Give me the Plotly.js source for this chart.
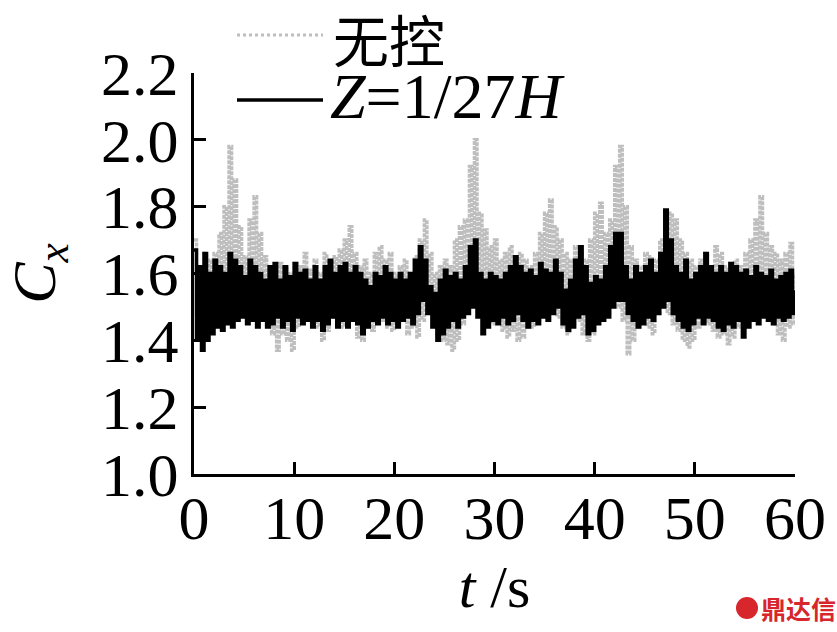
<!DOCTYPE html>
<html>
<head>
<meta charset="utf-8">
<script src="https://cdn.plot.ly/plotly-3.0.1.min.js"></script>
<style>
html,body{margin:0;padding:0;background:#fff;}
#chart{width:837px;height:632px;}
</style>
</head>
<body>
<div id="chart"></div>
<script>
// ---- data ----
const sampleStep = 0.25; // s between samples
const seriesNames = ['无控', '<i>Z</i>=1/27<i>H</i>'];
const xTickVals = [0, 10, 20, 30, 40, 50, 60];
const yTickVals = [1.0, 1.2, 1.4, 1.6, 1.8, 2.0, 2.2];

// 无控 (no control)
const noControl = [
  1.70,1.48, 1.62,1.45, 1.66,1.44, 1.64,1.50, 1.66,1.47, 1.72,1.48, 1.80,1.50, 1.98,1.54, 1.88,1.52, 1.74,1.50,
  1.65,1.46, 1.76,1.50, 1.83,1.52, 1.72,1.48, 1.65,1.45, 1.62,1.42, 1.60,1.37, 1.63,1.42, 1.62,1.40, 1.60,1.37,
  1.63,1.44, 1.62,1.46, 1.66,1.47, 1.61,1.45, 1.64,1.44, 1.60,1.40, 1.66,1.43, 1.62,1.47, 1.65,1.45, 1.67,1.44,
  1.70,1.46, 1.74,1.47, 1.66,1.41, 1.62,1.40, 1.64,1.44, 1.60,1.43, 1.66,1.47, 1.68,1.46, 1.64,1.44, 1.66,1.43,
  1.60,1.45, 1.62,1.46, 1.64,1.42, 1.60,1.44, 1.65,1.41, 1.70,1.46, 1.76,1.52, 1.66,1.48, 1.60,1.42, 1.62,1.40,
  1.64,1.39, 1.62,1.37, 1.70,1.40, 1.74,1.45, 1.76,1.50, 1.92,1.55, 2.00,1.52, 1.78,1.48, 1.73,1.46, 1.68,1.45,
  1.70,1.47, 1.64,1.43, 1.66,1.41, 1.68,1.43, 1.62,1.40, 1.66,1.41, 1.64,1.44, 1.62,1.44, 1.66,1.46, 1.72,1.48,
  1.78,1.50, 1.82,1.52, 1.74,1.47, 1.70,1.44, 1.66,1.42, 1.64,1.45, 1.68,1.46, 1.66,1.42, 1.64,1.40, 1.70,1.42,
  1.78,1.46, 1.81,1.50, 1.72,1.48, 1.76,1.52, 1.92,1.50, 1.98,1.46, 1.80,1.36, 1.68,1.40, 1.64,1.44, 1.62,1.46,
  1.66,1.44, 1.65,1.42, 1.64,1.48, 1.70,1.50, 1.76,1.48, 1.78,1.45, 1.76,1.43, 1.70,1.40, 1.66,1.38, 1.64,1.40,
  1.62,1.44, 1.64,1.46, 1.66,1.45, 1.62,1.43, 1.68,1.41, 1.66,1.42, 1.62,1.39, 1.63,1.41, 1.64,1.44, 1.62,1.45,
  1.66,1.47, 1.70,1.48, 1.76,1.50, 1.83,1.52, 1.72,1.48, 1.68,1.45, 1.66,1.42, 1.64,1.40, 1.66,1.44, 1.69,1.45,
  1.60
];

// Z = 1/27H
const zControl = [
  1.67,1.40, 1.62,1.37, 1.66,1.40, 1.60,1.42, 1.64,1.44, 1.62,1.43, 1.60,1.45, 1.66,1.44, 1.64,1.46, 1.62,1.47,
  1.59,1.45, 1.64,1.46, 1.62,1.44, 1.60,1.46, 1.58,1.44, 1.62,1.45, 1.63,1.47, 1.58,1.44, 1.62,1.46, 1.59,1.43,
  1.63,1.47, 1.60,1.45, 1.61,1.46, 1.58,1.44, 1.62,1.46, 1.58,1.43, 1.62,1.45, 1.64,1.47, 1.60,1.44, 1.62,1.46,
  1.63,1.44, 1.60,1.46, 1.62,1.45, 1.60,1.42, 1.58,1.44, 1.56,1.46, 1.60,1.45, 1.59,1.47, 1.62,1.45, 1.60,1.46,
  1.58,1.44, 1.60,1.46, 1.58,1.47, 1.60,1.45, 1.64,1.48, 1.68,1.52, 1.64,1.48, 1.56,1.44, 1.54,1.40, 1.58,1.42,
  1.61,1.44, 1.59,1.46, 1.60,1.44, 1.58,1.47, 1.62,1.48, 1.68,1.50, 1.70,1.47, 1.60,1.42, 1.58,1.44, 1.60,1.46,
  1.59,1.45, 1.58,1.47, 1.60,1.45, 1.62,1.46, 1.65,1.48, 1.62,1.46, 1.60,1.44, 1.61,1.46, 1.59,1.45, 1.63,1.47,
  1.61,1.46, 1.60,1.48, 1.64,1.50, 1.60,1.45, 1.55,1.43, 1.58,1.44, 1.64,1.47, 1.68,1.48, 1.62,1.42, 1.57,1.43,
  1.59,1.45, 1.58,1.46, 1.62,1.47, 1.68,1.50, 1.72,1.52, 1.72,1.52, 1.62,1.48, 1.58,1.46, 1.62,1.44, 1.60,1.45,
  1.62,1.47, 1.64,1.46, 1.60,1.48, 1.66,1.50, 1.79,1.52, 1.70,1.48, 1.62,1.46, 1.60,1.44, 1.64,1.43, 1.58,1.45,
  1.60,1.47, 1.62,1.45, 1.66,1.47, 1.62,1.46, 1.60,1.44, 1.62,1.43, 1.60,1.45, 1.63,1.44, 1.62,1.46, 1.60,1.41,
  1.61,1.44, 1.59,1.46, 1.62,1.45, 1.60,1.47, 1.59,1.46, 1.61,1.45, 1.58,1.47, 1.59,1.46, 1.60,1.47, 1.61,1.48,
  1.55
];

const tNo = noControl.map((_, i) => i * sampleStep);
const tZ = zControl.map((_, i) => i * sampleStep);

// ---- figure ----
const W = 837, H = 632;
const M = {l: 194, r: 42, t: 73, b: 158};
const pw = W - M.l - M.r, ph = H - M.t - M.b;
const px = x => (x - M.l) / pw;      // pixel -> paper x
const py = y => (M.t + ph - y) / ph; // pixel -> paper y

const serif = 'Liberation Serif, Times New Roman, Noto Sans CJK SC, serif';
const grayCol = '#bebebe';

const traces = [
  {x: tNo, y: noControl, type: 'scatter', mode: 'lines', name: seriesNames[0],
   line: {color: grayCol, width: 3.5, dash: '4px,1px', shape: 'hv'}, showlegend: false, hoverinfo: 'skip'},
  {x: tZ, y: zControl, type: 'scatter', mode: 'lines', name: seriesNames[1],
   line: {color: '#000', width: 3.5, shape: 'hv'}, showlegend: false, hoverinfo: 'skip'}
];

const axisCommon = {
  showline: true, linecolor: '#000', linewidth: 3,
  ticks: 'inside', ticklen: 12, tickwidth: 3, tickcolor: '#000',
  showgrid: false, zeroline: false,
  tickfont: {family: serif, size: 62, color: '#000'}
};

const layout = {
  width: W, height: H,
  margin: M,
  paper_bgcolor: '#fff', plot_bgcolor: '#fff',
  showlegend: false,
  xaxis: Object.assign({}, axisCommon, {
    range: [0, 60], tickvals: xTickVals, ticktext: xTickVals.map(String),
    ticklabelstandoff: -12,
    title: {text: '<i>t</i> /s', font: {family: serif, size: 60, color: '#000'}, standoff: 14}
  }),
  yaxis: Object.assign({}, axisCommon, {
    range: [1.0, 2.2], tickvals: yTickVals, ticktext: yTickVals.map(v => v.toFixed(1)),
    ticklabelstandoff: 0,
    title: {text: '<i>C</i><sub><i>x</i></sub>', font: {family: serif, size: 62, color: '#000'}, standoff: 32}
  }),
  shapes: [
    {type: 'line', xref: 'paper', yref: 'paper', x0: px(237), x1: px(323), y0: py(35), y1: py(35),
     line: {color: grayCol, width: 3, dash: 'dot'}},
    {type: 'line', xref: 'paper', yref: 'paper', x0: px(237), x1: px(323), y0: py(100), y1: py(100),
     line: {color: '#000', width: 3.5}},
    {type: 'circle', xref: 'paper', yref: 'paper', x0: px(736), x1: px(758), y0: py(619), y1: py(597),
     fillcolor: '#d7262c', line: {width: 0}}
  ],
  annotations: [
    {xref: 'paper', yref: 'paper', x: px(331), y: py(37), xanchor: 'left', yanchor: 'middle',
     text: seriesNames[0], showarrow: false,
     font: {family: 'Noto Sans CJK SC, sans-serif', size: 56, color: '#000'}},
    {xref: 'paper', yref: 'paper', x: px(328), y: py(96), xanchor: 'left', yanchor: 'middle',
     text: seriesNames[1], showarrow: false,
     font: {family: serif, size: 64, color: '#000'}},
    {xref: 'paper', yref: 'paper', x: px(759), y: py(608), xanchor: 'left', yanchor: 'middle',
     text: '<b>鼎达信</b>', showarrow: false,
     font: {family: 'Noto Sans CJK SC, sans-serif', size: 25, color: '#d7262c'}}
  ]
};

Plotly.newPlot('chart', traces, layout, {displayModeBar: false, staticPlot: true});
</script>
</body>
</html>
